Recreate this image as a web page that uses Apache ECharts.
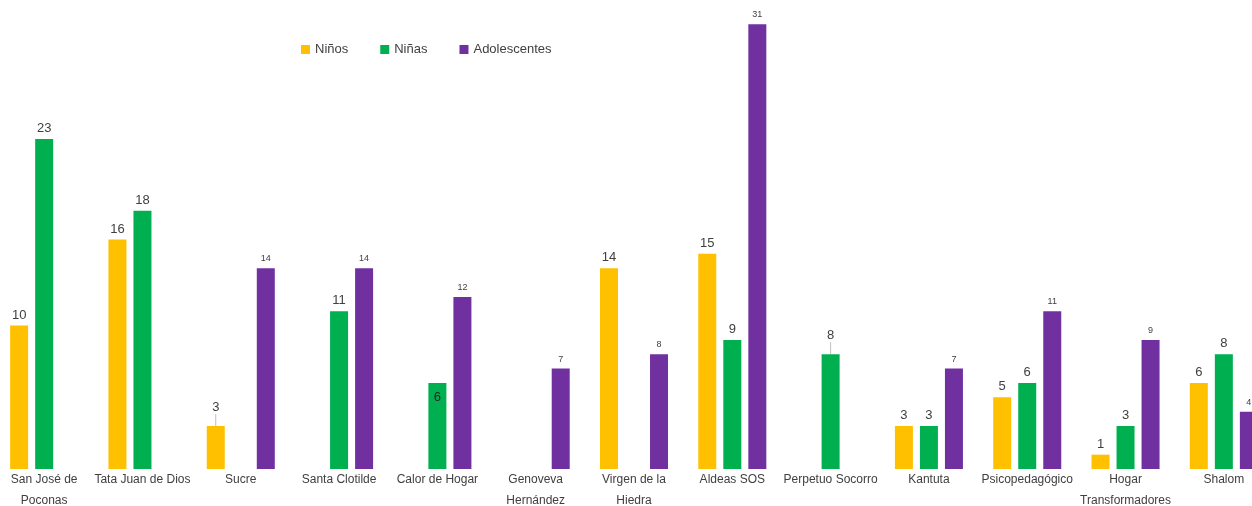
<!DOCTYPE html>
<html>
<head>
<meta charset="utf-8">
<script src="https://cdn.jsdelivr.net/npm/echarts@6/dist/echarts.min.js"></script>
<style>
  html, body { margin: 0; padding: 0; background: #fff; overflow: hidden; }
  #main { width: 1252px; height: 506px; }
</style>
</head>
<body>
<div id="main"></div>
<script>
// datos del grafico
var categorias = ['San José de\nPoconas', 'Tata Juan de Dios', 'Sucre', 'Santa Clotilde', 'Calor de Hogar',
    'Genoveva\nHernández', 'Virgen de la\nHiedra', 'Aldeas SOS', 'Perpetuo Socorro', 'Kantuta',
    'Psicopedagógico', 'Hogar\nTransformadores', 'Shalom'];
var ninos        = [10, 16, 3, '-', '-', '-', 14, 15, '-', 3, 5, 1, 6];
var ninas        = [23, 18, '-', 11, 6, '-', '-', 9, 8, 3, 6, 3, 8];
var adolescentes = ['-', '-', 14, 14, 12, 7, 8, 31, '-', 7, 11, 9, 4];

var colores = ['#FFC000', '#00B050', '#7030A0'];
var fuente = 'Liberation Sans, Arial, sans-serif';

// etiquetas con linea guia (Sucre - Niños, Perpetuo Socorro - Niñas)
function guia(indices){
    return function(params){
        if(indices.indexOf(params.dataIndex) >= 0){
            return { dy: -8 };
        }
        return {};
    };
}
function conGuia(datos, indices){
    return datos.map(function(v, i){
        if(indices.indexOf(i) >= 0){
            return { value: v, labelLine: { show: true } };
        }
        return v;
    });
}

var chart = echarts.init(document.getElementById('main'));
var option = {
    animation: false,
    color: colores,
    legend: {
        data: ['Niños', 'Niñas', 'Adolescentes'],
        left: 296,
        top: 38,
        itemWidth: 9,
        itemHeight: 9,
        itemGap: 32,
        icon: 'rect',
        textStyle: { fontFamily: fuente, fontSize: 13, color: '#404040' }
    },
    grid: {
        left: -5,
        width: 1278,
        top: 10,
        bottom: 37,
        outerBoundsMode: 'none',
        containLabel: false
    },
    xAxis: {
        type: 'category',
        data: categorias,
        axisLine: { show: false },
        axisTick: { show: false },
        axisLabel: {
            interval: 0,
            margin: 0,
            fontFamily: fuente,
            fontSize: 12,
            lineHeight: 21,
            color: '#404040'
        }
    },
    yAxis: {
        type: 'value',
        min: 0,
        max: 32,
        show: false,
        splitLine: { show: false }
    },
    series: [
        {
            name: 'Niños',
            type: 'bar',
            barWidth: 18,
            barGap: '39%',
            data: conGuia(ninos, [2]),
            label: { show: true, position: 'top', distance: 4, fontFamily: fuente, fontSize: 13, color: '#404040' },
            labelLine: { show: false, lineStyle: { color: '#bfbfbf', width: 1 } },
            labelLayout: guia([2])
        },
        {
            name: 'Niñas',
            type: 'bar',
            barWidth: 18,
            barGap: '39%',
            data: conGuia(ninas, [8]).map(function(v, i){
                // Calor de Hogar: etiqueta dentro de la barra
                if(i === 4){
                    return { value: v, label: { position: 'insideTop', distance: 8, color: '#262626' } };
                }
                return v;
            }),
            label: { show: true, position: 'top', distance: 4, fontFamily: fuente, fontSize: 13, color: '#404040' },
            labelLine: { show: false, lineStyle: { color: '#bfbfbf', width: 1 } },
            labelLayout: guia([8])
        },
        {
            name: 'Adolescentes',
            type: 'bar',
            barWidth: 18,
            barGap: '39%',
            data: adolescentes,
            label: { show: true, position: 'top', distance: 5, fontFamily: fuente, fontSize: 9, color: '#404040' }
        }
    ]
};
chart.setOption(option, true);
</script>
</body>
</html>
